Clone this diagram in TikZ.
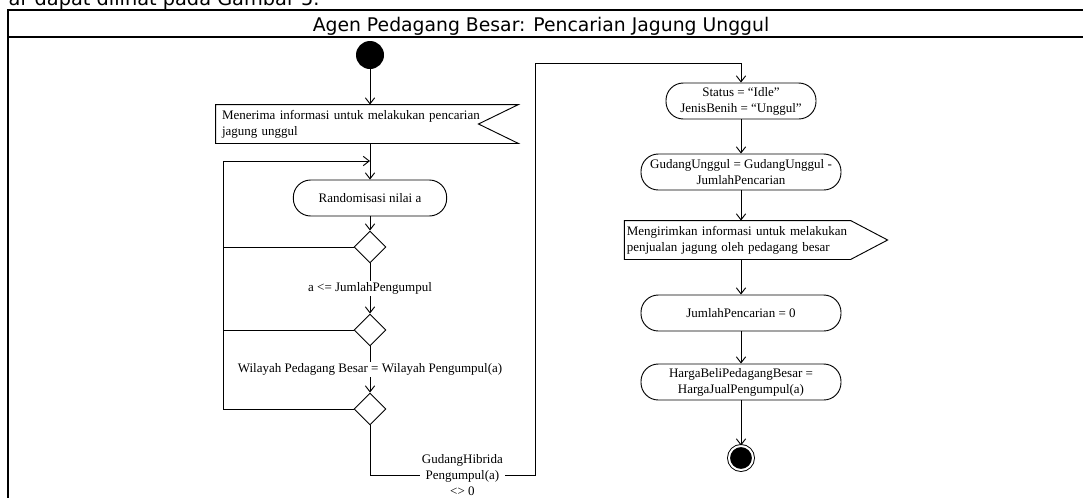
\documentclass[tikz,border=0pt]{standalone}
\usepackage{fontspec}
\setmainfont{Liberation Serif}
\newfontfamily\headfont{DejaVu Sans}
\usetikzlibrary{arrows.meta,shapes.geometric,calc}
\tikzstyle{action} = [rectangle, draw, rounded corners=13pt, text centered,
    align=center, minimum height=27pt, inner sep=2pt]
\tikzstyle{decision} = [diamond, draw, minimum width=24pt, minimum height=24pt, inner sep=0pt]
\tikzstyle{banner} = [rectangle, align=left, minimum height=28.5pt, inner xsep=4.5pt]
\tikzstyle{guard} = [fill=white, inner sep=1.5pt, align=center]

\begin{document}
\begin{tikzpicture}[x=0.75pt,y=-0.75pt,line width=0.7pt,
                    >={Straight Barb[length=4.5pt,width=7pt]},
                    font=\fontsize{9.75pt}{12pt}\selectfont]
  \useasboundingbox (0,0) rectangle (1083,497);
  \clip (0,0) rectangle (1083,497);
  % page text and frame
  \node[anchor=base east,inner sep=0pt,font=\headfont\fontsize{14.5pt}{16pt}\selectfont] (pagetext) at (320,5) {ar dapat dilihat pada Gambar 5.};
  \draw[line width=1.5pt] (8,10) rectangle (1100,520);
  \draw[line width=1.5pt] (8,36.5) -- (1100,36.5);
  \node[anchor=base,inner sep=0pt,font=\headfont\fontsize{14.1pt}{16pt}\selectfont] (title) at (541,31) {Agen Pedagang Besar: Pencarian Jagung Unggul};

  % left column
  \node[circle, fill=black, minimum size=21pt, inner sep=0pt] (start) at (370,55) {};
  \node[banner, text width=217.5pt] (recv) at (367,124) {Menerima informasi untuk melakukan pencarian\\jagung unggul};
  \draw (recv.north west) -- (recv.north east) -- ($(recv.east)+(-40,0)$) -- (recv.south east) -- (recv.south west) -- cycle;
  \node[action, minimum width=115pt] (rand) at (370,198) {Randomisasi nilai a};
  \node[decision] (d1) at (370,247) {};
  \node[decision] (d2) at (370,330) {};
  \node[decision] (d3) at (370,409) {};
  \coordinate (back) at (223,161);
  \coordinate (merge) at (370,161);
  \coordinate (low) at (535,475);
  \coordinate (high) at (535,63);

  % right column
  \node[action, minimum width=112.5pt] (status) at (741,101) {Status = “Idle”\\JenisBenih = “Unggul”};
  \node[action, minimum width=150pt] (gudang) at (741,172) {GudangUnggul = GudangUnggul -\\JumlahPencarian};
  \node[banner, text width=166pt, inner xsep=1.5pt] (kirim) at (737.5,240) {Mengirimkan informasi untuk melakukan\\penjualan jagung oleh pedagang besar};
  \draw (kirim.north west) -- (kirim.north east) -- ($(kirim.east)+(37,0)$) -- (kirim.south east) -- (kirim.south west) -- cycle;
  \node[action, minimum width=150pt] (jumlah) at (741,313) {JumlahPencarian = 0};
  \node[action, minimum width=150pt] (harga) at (741,382) {HargaBeliPedagangBesar =\\HargaJualPengumpul(a)};
  \node[circle, draw, fill=black, double=white, double distance=1.5pt, minimum size=18pt, inner sep=0pt] (finish) at (741,458) {};

  \draw[->] (start) -- (start |- recv.north);
  \draw[->] (rand |- recv.south) -- (rand);
  \draw[->] (rand) -- (d1);
  \draw[->] (d1) -- node[guard] {a <= JumlahPengumpul} (d2);
  \draw[->] (d2) -- node[guard] {Wilayah Pedagang Besar = Wilayah Pengumpul(a)} (d3);
  \draw (d1.west) -- (d1 -| back);
  \draw (d2.west) -- (d2 -| back);
  \draw[->] (d3.west) -| (back) -- (merge);
  \draw[->] (d3) |- node[guard, pos=0.78] {GudangHibrida\\Pengumpul(a)\\<> 0} (low) -- (high) -| (status);
  \draw[->] (status) -- (gudang);
  \draw[->] (gudang) -- (gudang |- kirim.north);
  \draw[->] (gudang |- kirim.south) -- (jumlah);
  \draw[->] (jumlah) -- (harga);
  \draw[->] (harga) -- (finish);
\end{tikzpicture}
\end{document}
